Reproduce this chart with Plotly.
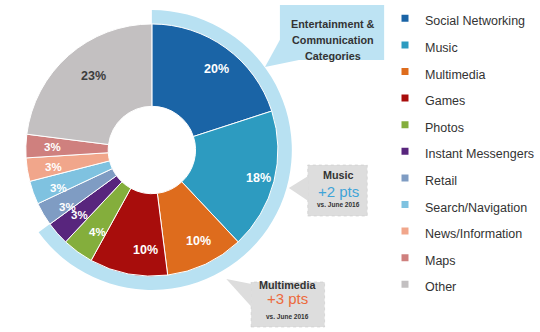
import math
import plotly.graph_objects as go

# App-category share of time spent
categories = ["Social Networking", "Music", "Multimedia", "Games", "Photos",
              "Instant Messengers", "Retail", "Search/Navigation",
              "News/Information", "Maps", "Other"]
shares = [20, 18, 10, 10, 4, 3, 3, 3, 3, 3, 23]
slice_colors = ["#1a64a6", "#2d9bc0", "#de6c1d", "#a80d0c", "#84ae3c",
                "#58257d", "#7f9cc3", "#7fc2e0", "#f1a68b", "#cf807e", "#c3c0c1"]
label_colors = ["white"] * 10 + ["#3d3d3d"]

# The first six categories form the entertainment & communication group
group_size = 6
group_labels = ["Entertainment & Communication", "Rest"]
group_values = [sum(shares[:group_size]), sum(shares[group_size:])]

callout_title = ["Entertainment &", "Communication", "Categories"]
music_note = ["Music", "+2 pts", "vs. June 2016"]
multimedia_note = ["Multimedia", "+3 pts", "vs. June 2016"]

W, H = 540, 332
CX, CY = 153, 150
R_PIE, R_HOLE, R_RING, R_LABEL = 127, 44, 141, 111
FONT = "Liberation Sans, Arial, sans-serif"


def px(x):
    return x / W


def py(y):
    return 1 - y / H


def domain(r):
    return dict(x=[px(CX - r), px(CX + r)], y=[py(CY + r), py(CY - r)])


ROW = 26.6
LEG_TEXT = 12.5
leg_size = (ROW - 3) / 1.3
legend_labels = [f'<span style="font-size:{LEG_TEXT}px">{c}</span>' for c in categories]

fig = go.Figure()

# underlay copy of the donut: supplies the legend swatches (a wide white
# outline trims them to small squares) and is hidden below the real donut
fig.add_trace(go.Pie(
    labels=legend_labels, values=shares, sort=False, direction="clockwise",
    rotation=0, hole=R_HOLE / R_PIE, domain=domain(R_PIE),
    marker=dict(colors=slice_colors, line=dict(color="white", width=5)),
    textinfo="none", hoverinfo="skip", showlegend=True,
))

# light-blue ring marking the entertainment & communication group
fig.add_trace(go.Pie(
    labels=group_labels, values=group_values, sort=False, direction="clockwise",
    rotation=0, hole=R_PIE / R_RING, domain=domain(R_RING),
    marker=dict(colors=["#b8e1f2", "rgba(0,0,0,0)"], line=dict(width=0)),
    textinfo="none", hoverinfo="skip", showlegend=False,
))

# main donut
fig.add_trace(go.Pie(
    labels=legend_labels, values=shares, sort=False, direction="clockwise",
    rotation=0, hole=R_HOLE / R_PIE, domain=domain(R_PIE),
    marker=dict(colors=slice_colors, line=dict(color="white", width=1)),
    textinfo="none", hovertemplate="%{label}: %{value}%<extra></extra>",
    showlegend=False,
))

annotations = []
total = sum(shares)
cum = 0
for v, col in zip(shares, label_colors):
    ang = (cum + v / 2) / total * 2 * math.pi
    cum += v
    annotations.append(dict(
        x=px(CX + R_LABEL * math.sin(ang)), y=py(CY - R_LABEL * math.cos(ang)),
        xref="paper", yref="paper", showarrow=False,
        text=f"<b>{v}%</b>",
        font=dict(family=FONT, size=12.5 if v >= 10 else 11.5, color=col)))


def note(text, x, y, size, color="#333333", bold=True):
    annotations.append(dict(
        x=px(x), y=py(y), xref="paper", yref="paper", showarrow=False,
        text=f"<b>{text}</b>" if bold else text,
        font=dict(family=FONT, size=size, color=color)))


for i, t in enumerate(callout_title):
    note(t, 335, 16 + 16 * i, 10.8)
note(music_note[0], 341, 175, 10.8)
note(music_note[1], 341, 191, 15, "#3fa4d8", bold=False)
note(music_note[2], 341, 204, 6.5)
note(multimedia_note[0], 290, 293, 10.8)
note(multimedia_note[1], 290, 309, 15, "#ec6a3c", bold=False)
note(multimedia_note[2], 290, 322, 6.5)


def rect(x0, y0, x1, y1, color, line=None):
    return dict(type="rect", xref="paper", yref="paper",
                x0=px(x0), x1=px(x1), y0=py(y1), y1=py(y0),
                fillcolor=color, line=line or dict(width=0), layer="below")


def tri(pts, color):
    path = "M " + " L ".join(f"{px(a)},{py(b)}" for a, b in pts) + " Z"
    return dict(type="path", xref="paper", yref="paper", path=path,
                fillcolor=color, line=dict(width=0), layer="below")


box_line = dict(color="#c9c9c9", width=0.6, dash="dot")
shapes = [
    rect(282, 5, 387, 60, "#bde3f3"),
    tri([(283, 38), (267, 67), (306, 59)], "#bde3f3"),
    rect(310, 165, 370, 216, "#dddddd", box_line),
    tri([(310.5, 176), (291, 188), (310.5, 201)], "#dddddd"),
    rect(253, 282, 327, 327, "#dddddd", box_line),
    tri([(253.5, 284), (228, 279), (253.5, 307)], "#dddddd"),
]

fig.update_layout(
    width=W, height=H, autosize=False,
    margin=dict(l=0, r=0, t=0, b=0),
    paper_bgcolor="white", plot_bgcolor="white",
    font=dict(family=FONT, color="#333333"),
    annotations=annotations, shapes=shapes,
    legend=dict(x=px(388), xanchor="left", y=1, yanchor="top", maxheight=1,
                font=dict(family=FONT, size=leg_size, color="#333333"),
                bgcolor="rgba(0,0,0,0)", borderwidth=0),
)

fig.write_html("out.html")
